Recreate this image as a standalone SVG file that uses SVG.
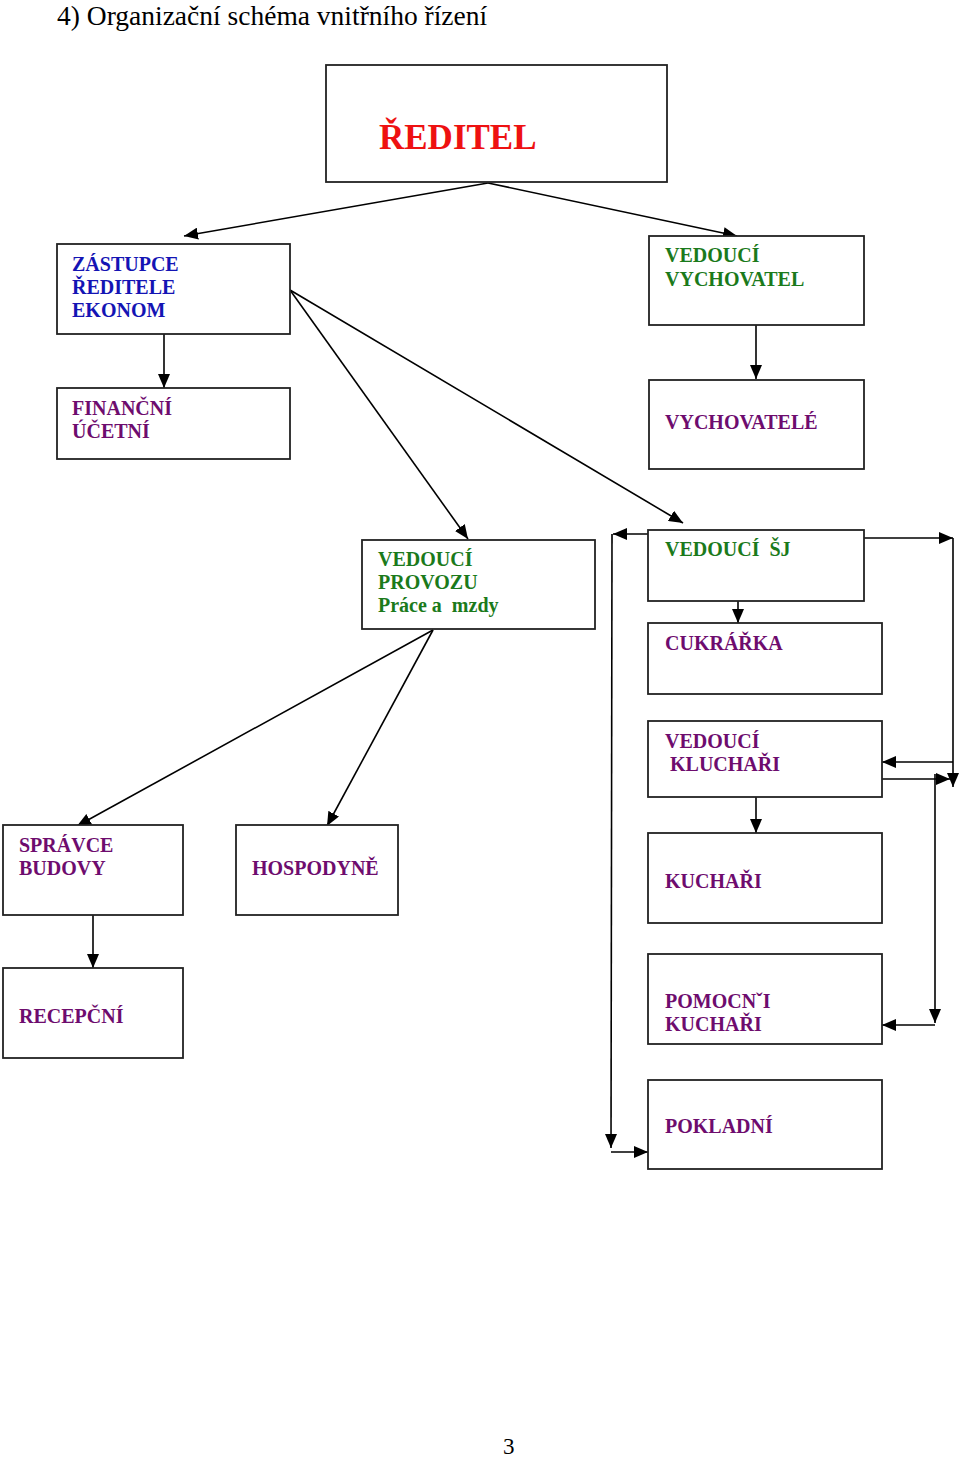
<svg xmlns="http://www.w3.org/2000/svg" width="960" height="1457" viewBox="0 0 960 1457">
<style>
.box{fill:#fff;stroke:#222;stroke-width:1.8}
.t{font-family:"Liberation Serif","Times New Roman",serif;font-weight:bold;font-size:20px}
.blue{fill:#1414b4}
.green{fill:#1b7a1b}
.purple{fill:#6e0c6e}
.red{fill:#ee1111;font-size:35px}
.c{fill:none;stroke:#000;stroke-width:1.6;marker-end:url(#ah)}
</style>
<defs>
<marker id="ah" markerUnits="userSpaceOnUse" markerWidth="14" markerHeight="12" refX="14" refY="6" orient="auto" viewBox="0 0 14 12">
<path d="M0,0 L14,6 L0,12 z" fill="#000"/>
</marker>
</defs>
<rect width="960" height="1457" fill="#fff"/>
<text x="57" y="25" font-family="Liberation Serif,'Times New Roman',serif" font-size="27.5" fill="#000">4) Organizační schéma vnitřního řízení</text>

<g id="connectors">
<path class="c" d="M488,183 L184,236"/>
<path class="c" d="M488,183 L737,236"/>
<path class="c" d="M164,334 L164,388"/>
<path class="c" d="M290,290 L468,539"/>
<path class="c" d="M290,290 L683,523"/>
<path class="c" d="M756,325 L756,379"/>
<path class="c" d="M433,630 L77,826"/>
<path class="c" d="M433,630 L327,826"/>
<path class="c" d="M93,915 L93,968"/>
<path class="c" d="M648,534 L613,534"/>
<path class="c" d="M612,534 L611,1148"/>
<path class="c" d="M611,1152 L648,1152"/>
<path class="c" d="M864,538 L953,538"/>
<path class="c" d="M953,538 L953,787"/>
<path class="c" d="M953,762 L882,762"/>
<path class="c" d="M882,779 L950,779"/>
<path class="c" d="M935,774 L935,1023"/>
<path class="c" d="M935,1025 L882,1025"/>
<path class="c" d="M738,594 L738,623"/>
<path class="c" d="M756,797 L756,833"/>
</g>

<g id="reditel"><rect class="box" x="326" y="65" width="341" height="117"/><text class="t red" x="379" y="149">ŘEDITEL</text></g>
<g id="zastupce"><rect class="box" x="57" y="244" width="233" height="90"/><text class="t blue" x="72" y="271">ZÁSTUPCE</text><text class="t blue" x="72" y="294">ŘEDITELE</text><text class="t blue" x="72" y="317">EKONOM</text></g>
<g id="financni"><rect class="box" x="57" y="388" width="233" height="71"/><text class="t purple" x="72" y="415">FINANČNÍ</text><text class="t purple" x="72" y="438">ÚČETNÍ</text></g>
<g id="ved-vychovatel"><rect class="box" x="649" y="236" width="215" height="89"/><text class="t green" x="665" y="262">VEDOUCÍ</text><text class="t green" x="665" y="286">VYCHOVATEL</text></g>
<g id="vychovatele"><rect class="box" x="649" y="380" width="215" height="89"/><text class="t purple" x="665" y="429">VYCHOVATELÉ</text></g>
<g id="ved-provozu"><rect class="box" x="362" y="540" width="233" height="89"/><text class="t green" x="378" y="566">VEDOUCÍ</text><text class="t green" x="378" y="589">PROVOZU</text><text class="t green" x="378" y="612" xml:space="preserve">Práce a  mzdy</text></g>
<g id="ved-sj"><rect class="box" x="648" y="530" width="216" height="71"/><text class="t green" x="665" y="556" xml:space="preserve">VEDOUCÍ  ŠJ</text></g>
<g id="cukrarka"><rect class="box" x="648" y="623" width="234" height="71"/><text class="t purple" x="665" y="650">CUKRÁŘKA</text></g>
<g id="ved-kuchari"><rect class="box" x="648" y="721" width="234" height="76"/><text class="t purple" x="665" y="748">VEDOUCÍ</text><text class="t purple" x="665" y="771" xml:space="preserve"> KLUCHAŘI</text></g>
<g id="kuchari"><rect class="box" x="648" y="833" width="234" height="90"/><text class="t purple" x="665" y="888">KUCHAŘI</text></g>
<g id="pomocni"><rect class="box" x="648" y="954" width="234" height="90"/><text class="t purple" x="665" y="1008">POMOCNˇI</text><text class="t purple" x="665" y="1031">KUCHAŘI</text></g>
<g id="pokladni"><rect class="box" x="648" y="1080" width="234" height="89"/><text class="t purple" x="665" y="1133">POKLADNÍ</text></g>
<g id="spravce"><rect class="box" x="3" y="825" width="180" height="90"/><text class="t purple" x="19" y="852">SPRÁVCE</text><text class="t purple" x="19" y="875">BUDOVY</text></g>
<g id="hospodyne"><rect class="box" x="236" y="825" width="162" height="90"/><text class="t purple" x="252" y="875">HOSPODYNĚ</text></g>
<g id="recepcni"><rect class="box" x="3" y="968" width="180" height="90"/><text class="t purple" x="19" y="1023">RECEPČNÍ</text></g>

<text x="503" y="1454" font-family="Liberation Serif,'Times New Roman',serif" font-size="23" fill="#000">3</text>
</svg>
